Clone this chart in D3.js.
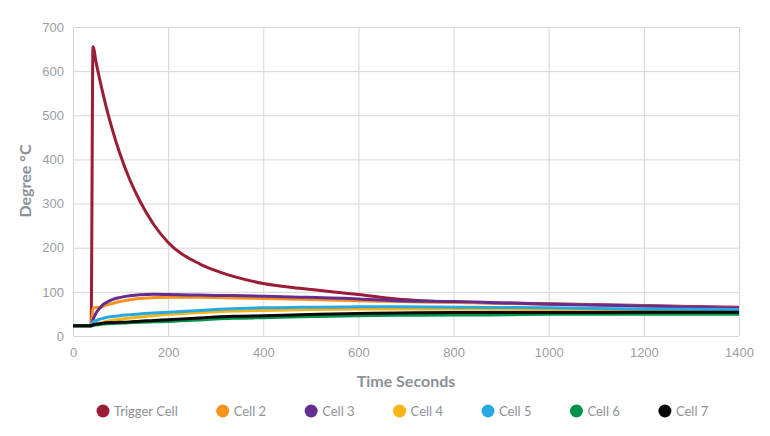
<!DOCTYPE html>
<html>
<head>
<meta charset="utf-8">
<script src="https://cdn.jsdelivr.net/npm/d3@7"></script>
<style>
  body { margin: 0; background: #fff; }
  svg { display: block; font-family: Lato, "Open Sans", sans-serif; }
  .grid line { stroke: #d6d6d6; stroke-width: 1; }
  .axis text { fill: #9a9ea4; font-size: 13px; }
  .axis-title { fill: #8b9199; font-size: 16px; font-weight: bold; }
  .legend text { fill: #8e9297; font-size: 13px; }
</style>
</head>
<body>
<svg id="chart"></svg>
<script>
// time stamps (seconds) shared by every series
const times = [0, 38, 42, 49, 56, 63, 70, 84, 98, 119, 140, 170, 200, 267, 300, 337, 400, 477, 600, 680, 800, 900, 1000, 1200, 1400];

const cellNames = ['Trigger Cell', 'Cell 2', 'Cell 3', 'Cell 4', 'Cell 5', 'Cell 6', 'Cell 7'];
const cellColors = ['#9b1c35', '#f7921e', '#662d91', '#fbb415', '#29a9e1', '#00914a', '#0a0a0a'];

const triggerCell = [23, 23, 655, 617, 582, 549, 518, 463, 415, 355, 307, 252, 212, 163, 148, 135, 119, 108, 94, 84, 77, 75, 73, 69, 65];
const cell2 = [23, 23, 62, 65, 64, 67, 70, 74, 78, 82, 85, 87, 88, 87.5, 87, 86, 85, 83, 80, 78, 76, 74, 72, 68, 63];
const cell3 = [23, 23, 36, 53, 63, 71, 76, 83, 87, 91, 93.5, 94.5, 94, 93, 92, 91.5, 90, 88, 84, 80, 78, 75, 72, 68, 63];
const cell4 = [23, 23, 25, 27, 29, 31, 33, 36, 38, 40.5, 43, 46, 49, 53.5, 55, 56.5, 58, 59.5, 61, 61, 61, 60.5, 60, 59, 58];
const cell5 = [23, 23, 32, 35, 38, 40, 42, 44, 46, 48, 50, 52, 54, 58, 60, 62, 64, 65, 66, 66, 65, 64.5, 64, 61, 60];
const cell6 = [23, 23, 24, 25, 26, 27, 27.5, 28.5, 29, 30, 31, 32, 33, 36.5, 38.5, 40, 41.5, 43.5, 46, 47, 47.5, 48, 49, 49, 49];
const cell7 = [23, 23, 25, 27, 28, 29, 30, 30.5, 31, 32, 33.5, 35, 37, 41, 43, 44.5, 46, 48, 51, 52, 53, 53, 53, 54, 54];

const seriesValues = [triggerCell, cell2, cell3, cell4, cell5, cell6, cell7];

const xTicks = [0, 200, 400, 600, 800, 1000, 1200, 1400];
const yTicks = [0, 100, 200, 300, 400, 500, 600, 700];

class LineChart {

  constructor(_config) {
    this.config = {
      parentElement: _config.parentElement,
      containerWidth: _config.containerWidth || 770,
      containerHeight: _config.containerHeight || 436,
      margin: {top: 27, right: 31, bottom: 100, left: 73}
    }
    this.initVis();
  }

  initVis() {
    let vis = this;

    vis.width = vis.config.containerWidth - vis.config.margin.left - vis.config.margin.right;
    vis.height = vis.config.containerHeight - vis.config.margin.top - vis.config.margin.bottom;

    vis.svg = d3.select(vis.config.parentElement)
      .attr('width', vis.config.containerWidth)
      .attr('height', vis.config.containerHeight);

    vis.chart = vis.svg.append('g')
      .attr('transform', `translate(${vis.config.margin.left}, ${vis.config.margin.top})`);

    vis.xScale = d3.scaleLinear().domain([0, 1400]).range([0, vis.width]);
    vis.yScale = d3.scaleLinear().domain([0, 700]).range([vis.height, 0]);

    // gridlines
    vis.chart.append('g')
      .attr('class', 'grid')
      .selectAll('line')
      .data(yTicks)
      .join('line')
      .attr('x1', 0).attr('x2', vis.width)
      .attr('y1', d => vis.yScale(d) + 0.5).attr('y2', d => vis.yScale(d) + 0.5);

    vis.chart.append('g')
      .attr('class', 'grid')
      .selectAll('line')
      .data(xTicks)
      .join('line')
      .attr('y1', 0).attr('y2', vis.height)
      .attr('x1', d => vis.xScale(d) + 0.5).attr('x2', d => vis.xScale(d) + 0.5);

    // axes (labels only, gridlines carry the lines)
    vis.xAxis = d3.axisBottom(vis.xScale).tickValues(xTicks).tickFormat(d3.format('d')).tickSize(0).tickPadding(12);
    vis.yAxis = d3.axisLeft(vis.yScale).tickValues(yTicks).tickFormat(d3.format('d')).tickSize(0).tickPadding(9);

    vis.chart.append('g')
      .attr('class', 'axis x-axis')
      .attr('transform', `translate(0, ${vis.height})`)
      .call(vis.xAxis)
      .call(g => g.select('.domain').remove())
      .selectAll('text').attr('font-family', null).attr('font-size', null);

    vis.chart.append('g')
      .attr('class', 'axis y-axis')
      .call(vis.yAxis)
      .call(g => g.select('.domain').remove())
      .selectAll('text').attr('font-family', null).attr('font-size', null);

    vis.svg.append('text')
      .attr('class', 'axis-title')
      .attr('text-anchor', 'middle')
      .attr('x', vis.config.margin.left + vis.width / 2)
      .attr('y', 387)
      .text('Time Seconds');

    vis.svg.append('text')
      .attr('class', 'axis-title')
      .attr('text-anchor', 'middle')
      .attr('transform', `translate(31, 181) rotate(-90)`)
      .text('Degree °C');

    vis.updateVis();
  }

  updateVis() {
    let vis = this;

    vis.series = cellNames.map((name, i) => ({
      name: name,
      color: cellColors[i],
      values: times.map((t, j) => ({t: t, v: seriesValues[i][j]}))
    }));

    let line = d3.line()
      .x(d => vis.xScale(d.t))
      .y(d => vis.yScale(d.v))
      .curve(d3.curveMonotoneX);

    // drawing order: trigger underneath, black on top
    vis.chart.append('g')
      .selectAll('path')
      .data(vis.series)
      .join('path')
      .attr('fill', 'none')
      .attr('stroke', d => d.color)
      .attr('stroke-width', 3)
      .attr('stroke-linejoin', 'round')
      .attr('d', d => line(d.values));

    vis.renderLegend();
  }

  renderLegend() {
    let vis = this;

    let legend = vis.svg.append('g').attr('class', 'legend')
      .attr('transform', 'translate(0, 411)');

    let x = 103;
    vis.series.forEach(s => {
      let item = legend.append('g').attr('transform', `translate(${x}, 0)`);
      item.append('circle').attr('r', 6.5).attr('fill', s.color);
      let label = item.append('text')
        .attr('x', 11)
        .attr('dy', '0.35em')
        .text(s.name);
      x += 11 + label.node().getComputedTextLength() + 45;
    });
  }
}

new LineChart({parentElement: '#chart'});
</script>
</body>
</html>
